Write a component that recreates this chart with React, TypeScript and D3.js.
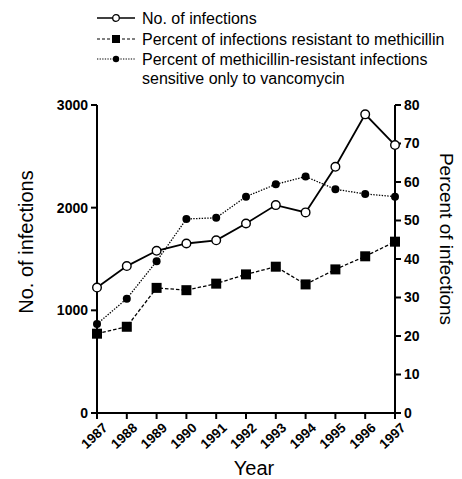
import * as d3 from 'd3'

const years = [1987, 1988, 1989, 1990, 1991, 1992, 1993, 1994, 1995, 1996, 1997]
const infections = [1222, 1431, 1580, 1651, 1682, 1846, 2025, 1954, 2398, 2909, 2610]
const pctMethicillin = [20.6, 22.4, 32.5, 31.9, 33.6, 36.0, 38.0, 33.4, 37.3, 40.7, 44.5]
const pctVancomycin = [23.1, 29.7, 39.4, 50.4, 50.7, 56.2, 59.4, 61.4, 58.1, 56.9, 56.2]
const leftTicks = [0, 1000, 2000, 3000]
const rightTicks = [0, 10, 20, 30, 40, 50, 60, 70, 80]
const legendLabels = [
  ['No. of infections'],
  ['Percent of infections resistant to methicillin'],
  ['Percent of methicillin-resistant infections', 'sensitive only to vancomycin'],
]

const W = 462
const H = 479
const MARGIN = { top: 105, right: 67, bottom: 66, left: 97 }
const FONT = 'Liberation Sans, Arial, Helvetica, sans-serif'

export default function App() {
  const innerW = W - MARGIN.left - MARGIN.right
  const innerH = H - MARGIN.top - MARGIN.bottom

  const x = d3.scaleLinear().domain([1987, 1997]).range([0, innerW])
  const yL = d3.scaleLinear().domain([0, 3000]).range([innerH, 0])
  const yR = d3.scaleLinear().domain([0, 80]).range([innerH, 0])

  const lineL = d3.line<number>().x((_, i) => x(years[i])).y((d) => yL(d))
  const lineR = d3.line<number>().x((_, i) => x(years[i])).y((d) => yR(d))

  return (
    <svg width={W} height={H} style={{ position: 'absolute', left: 0, top: 0, background: 'white' }} fontFamily={FONT}>
      {/* legend */}
      <g transform="translate(97,0)">
        <g transform="translate(0,18)">
          <line x1={0} x2={38} y1={0} y2={0} stroke="#000" strokeWidth={1.6} />
          <circle cx={19} cy={0} r={3.3} fill="#fff" stroke="#000" strokeWidth={1.3} />
          <text x={45} y={6} fontSize={16}>{legendLabels[0][0]}</text>
        </g>
        <g transform="translate(0,39)">
          <line x1={0} x2={38} y1={0} y2={0} stroke="#000" strokeWidth={1.2} strokeDasharray="3,2" />
          <rect x={15} y={-4} width={8} height={8} fill="#000" />
          <text x={45} y={6} fontSize={16}>{legendLabels[1][0]}</text>
        </g>
        <g transform="translate(0,59)">
          <line x1={0} x2={38} y1={0} y2={0} stroke="#000" strokeWidth={1.2} strokeDasharray="1.3,1.3" />
          <circle cx={19} cy={0} r={3.2} fill="#000" />
          <text x={45} y={6} fontSize={16}>{legendLabels[2][0]}</text>
          <text x={45} y={25} fontSize={16}>{legendLabels[2][1]}</text>
        </g>
      </g>

      <g transform={`translate(${MARGIN.left},${MARGIN.top})`}>
        {/* axes */}
        <line x1={0} x2={0} y1={0} y2={innerH} stroke="#000" strokeWidth={2} />
        <line x1={innerW} x2={innerW} y1={0} y2={innerH} stroke="#000" strokeWidth={2} />
        <line x1={0} x2={innerW} y1={innerH} y2={innerH} stroke="#000" strokeWidth={2} />
        {leftTicks.map((t) => (
          <g key={t} transform={`translate(0,${yL(t)})`}>
            <line x1={-6} x2={0} stroke="#000" strokeWidth={2} />
            <text x={-9} dy="0.35em" textAnchor="end" fontSize={14} fontWeight="bold">{t}</text>
          </g>
        ))}
        {rightTicks.map((t) => (
          <g key={t} transform={`translate(${innerW},${yR(t)})`}>
            <line x1={0} x2={6} stroke="#000" strokeWidth={2} />
            <text x={9} dy="0.35em" fontSize={14} fontWeight="bold">{t}</text>
          </g>
        ))}
        {years.map((yr) => (
          <g key={yr} transform={`translate(${x(yr)},${innerH})`}>
            <line y1={0} y2={6} stroke="#000" strokeWidth={2} />
            <text transform="translate(5,9) rotate(-43)" textAnchor="end" dy="0.7em" fontSize={13.5} fontWeight="bold">{yr}</text>
          </g>
        ))}

        {/* series */}
        <path d={lineR(pctVancomycin) ?? ''} fill="none" stroke="#000" strokeWidth={1.3} strokeDasharray="1.4,1.4" />
        <path d={lineR(pctMethicillin) ?? ''} fill="none" stroke="#000" strokeWidth={1.3} strokeDasharray="3.5,2" />
        <path d={lineL(infections) ?? ''} fill="none" stroke="#000" strokeWidth={1.8} />
        {pctVancomycin.map((d, i) => (
          <circle key={'v' + i} cx={x(years[i])} cy={yR(d)} r={4} fill="#000" />
        ))}
        {pctMethicillin.map((d, i) => (
          <rect key={'m' + i} x={x(years[i]) - 5} y={yR(d) - 5} width={10} height={10} fill="#000" />
        ))}
        {infections.map((d, i) => (
          <circle key={'n' + i} cx={x(years[i])} cy={yL(d)} r={4.3} fill="#fff" stroke="#000" strokeWidth={1.4} />
        ))}

        {/* titles */}
        <text transform={`translate(${-64},${137}) rotate(-90)`} textAnchor="middle" fontSize={20}>No. of infections</text>
        <text transform={`translate(${innerW + 45},${134}) rotate(90)`} textAnchor="middle" fontSize={19}>Percent of infections</text>
        <text x={innerW / 2 + 8} y={innerH + 62} textAnchor="middle" fontSize={20}>Year</text>
      </g>
    </svg>
  )
}
